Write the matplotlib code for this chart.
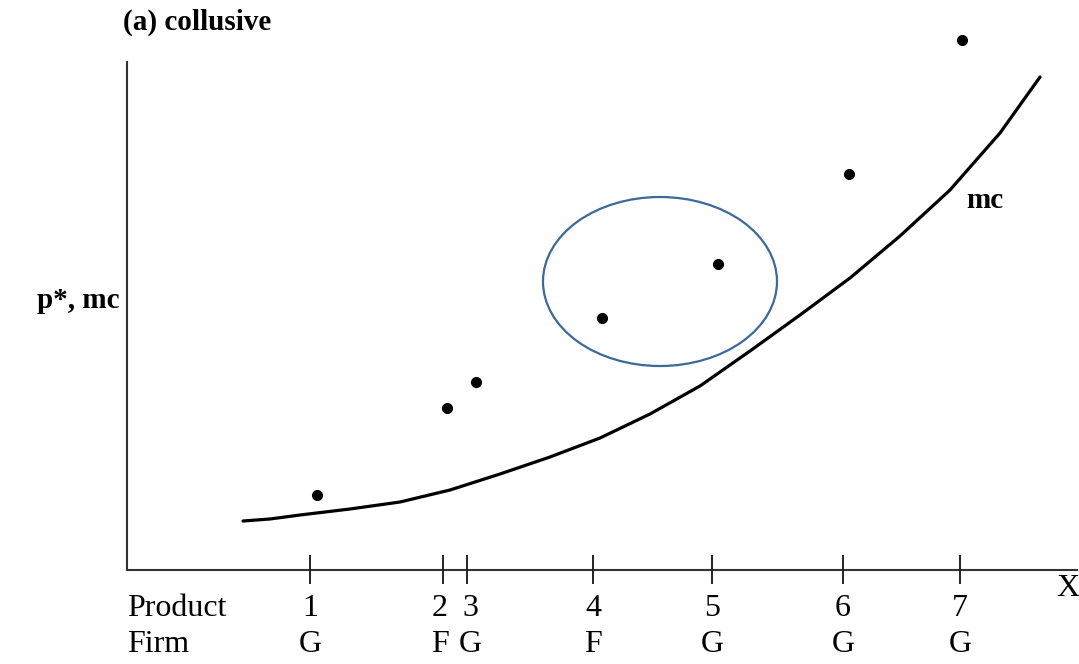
import numpy as np
import matplotlib.pyplot as plt
from matplotlib.patches import Ellipse

# product positions on the X axis and their labels
tick_x = [1.83, 3.16, 3.40, 4.66, 5.85, 7.16, 8.33]
product_labels = ['1', '2', '3', '4', '5', '6', '7']
firm_labels = ['G', 'F', 'G', 'F', 'G', 'G', 'G']

# observed prices p*
price_x = [1.90, 3.20, 3.49, 4.75, 5.91, 7.22, 8.35]
price_y = [0.75, 1.62, 1.88, 2.52, 3.06, 3.96, 5.30]

# marginal cost curve
mc_x = [1.16, 1.43, 1.73, 2.23, 2.73, 3.23, 3.73, 4.23, 4.73, 5.23,
        5.73, 6.23, 6.73, 7.23, 7.73, 8.23, 8.73, 9.13]
mc_y = [0.49, 0.51, 0.55, 0.61, 0.68, 0.80, 0.96, 1.13, 1.32, 1.56,
        1.84, 2.19, 2.55, 2.92, 3.34, 3.80, 4.37, 4.93]

plt.rcParams['font.family'] = ['Liberation Serif', 'DejaVu Serif']

fig = plt.figure(figsize=(10.79, 6.64), dpi=100)
ax = fig.add_axes([0, 0, 1, 1])
ax.set_xlim(-1.27, 9.52)
ax.set_ylim(-0.94, 5.70)
ax.axis('off')

# axes lines
ax.plot([0, 0], [0, 5.08], color='#333333', lw=1.5)
ax.plot([0, 9.50], [0, 0], color='#333333', lw=1.5)
for tx in tick_x:
    ax.plot([tx, tx], [-0.13, 0.14], color='#222222', lw=1.4)

ax.plot(mc_x, mc_y, color='black', lw=2.3, solid_capstyle='round',
        solid_joinstyle='round')
ax.plot(price_x, price_y, 'o', color='black', ms=7)

ax.add_patch(Ellipse((5.33, 2.885), 2.34, 1.69, fill=False,
                     edgecolor='#3b6998', lw=1.6))

ax.text(-0.04, 5.48, '(a) collusive', fontsize=21, fontweight='bold',
        ha='left', va='center')
ax.text(-0.08, 2.70, 'p*, mc', fontsize=21, fontweight='bold',
        ha='right', va='center')
ax.text(8.58, 3.70, 'mc', fontsize=21, fontweight='bold',
        ha='center', va='center')
ax.text(9.41, -0.18, 'X', fontsize=23, ha='center', va='center')

ax.text(0, -0.38, 'Product', fontsize=23, ha='left', va='center')
ax.text(0, -0.75, 'Firm', fontsize=23, ha='left', va='center')
for i, tx in enumerate(tick_x):
    off = -0.03 if product_labels[i] == '2' else (0.03 if product_labels[i] == '3' else 0)
    ax.text(tx + off, -0.38, product_labels[i], fontsize=23, ha='center', va='center')
    ax.text(tx + off, -0.75, firm_labels[i], fontsize=23, ha='center', va='center')

fig.savefig('out.png', dpi=100)
